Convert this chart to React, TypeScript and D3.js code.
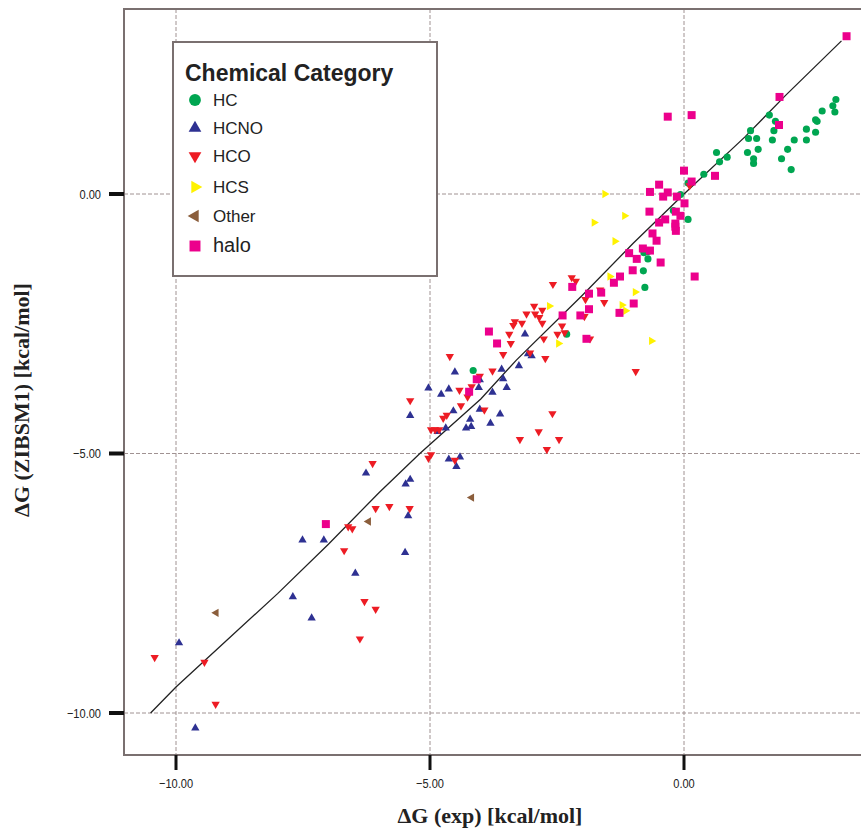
import React from 'react';
import * as d3 from 'd3';

const categories = ['HC', 'HCNO', 'HCO', 'HCS', 'Other', 'halo'];
const colors = ['#00a651', '#2e3192', '#ed1c24', '#fff200', '#8b5e3c', '#ec008c'];

const hc = [
  [2.99, 1.82], [2.93, 1.7], [2.97, 1.58], [2.72, 1.6], [2.59, 1.43], [2.62, 1.4], [2.41, 1.25],
  [2.59, 1.19], [2.41, 1.04], [2.17, 1.04], [2.04, 0.86], [1.92, 0.68], [2.11, 0.47], [1.68, 1.52],
  [1.8, 1.4], [1.77, 1.22], [1.74, 1.04], [1.31, 1.22], [1.27, 1.07], [1.43, 1.07], [1.46, 0.86],
  [1.25, 0.8], [1.37, 0.68], [1.37, 0.59], [0.64, 0.8], [0.7, 0.62], [0.85, 0.71], [0.39, 0.38],
  [0.08, 0.21], [-0.07, -0.01], [-0.21, -0.32], [0.08, -0.49], [-0.79, -1.13], [-0.71, -1.11],
  [-0.71, -1.25], [-0.8, -1.48], [-0.77, -1.8], [-2.31, -2.7], [-4.15, -3.4],
];

const hcno = [
  [-3.13, -2.7], [-3.07, -3.08], [-3.0, -3.12], [-3.25, -3.31], [-3.59, -3.38], [-3.56, -3.56],
  [-3.49, -3.73], [-3.77, -3.82], [-4.02, -3.58], [-4.04, -3.73], [-4.51, -3.43], [-4.63, -3.76],
  [-4.78, -3.86], [-5.03, -3.74], [-5.39, -4.27], [-4.54, -4.18], [-4.02, -4.15], [-3.62, -4.24],
  [-4.21, -4.34], [-3.81, -4.42], [-4.19, -4.48], [-4.29, -4.51], [-4.69, -4.51], [-4.85, -4.58],
  [-4.63, -5.11], [-4.41, -5.07], [-4.48, -5.25], [-6.26, -5.38], [-5.39, -5.5], [-5.48, -5.59],
  [-5.43, -6.2], [-5.49, -6.91], [-7.51, -6.67], [-7.09, -6.67], [-6.47, -7.31], [-7.7, -7.76],
  [-7.33, -8.17], [-9.94, -8.65], [-9.62, -10.29],
];

const hco = [
  [0.11, 0.16], [-2.21, -1.61], [-2.13, -1.68], [-2.58, -1.74], [-1.65, -1.85], [-1.94, -2.03],
  [-1.57, -2.09], [-2.95, -2.16], [-3.1, -2.31], [-2.93, -2.31], [-2.79, -2.24], [-2.85, -2.38],
  [-1.96, -2.36], [-3.33, -2.46], [-3.36, -2.53], [-3.19, -2.49], [-2.79, -2.49], [-2.4, -2.54],
  [-3.44, -2.7], [-2.49, -2.7], [-2.35, -2.67], [-2.76, -2.79], [-3.41, -2.88], [-1.85, -2.79],
  [-3.56, -3.09], [-3.03, -3.06], [-2.73, -3.17], [-4.61, -3.13], [-3.77, -3.41], [-4.02, -3.51],
  [-4.18, -3.71], [-4.42, -3.78], [-4.26, -3.91], [-4.39, -4.08], [-3.93, -4.16], [-5.39, -3.98],
  [-4.67, -4.26], [-4.74, -4.32], [-4.98, -4.54], [-4.9, -4.54], [-4.82, -4.54], [-2.59, -4.23],
  [-3.23, -4.73], [-2.86, -4.58], [-2.46, -4.73], [-2.7, -4.92], [-4.98, -5.02], [-5.03, -5.09],
  [-4.51, -5.13], [-6.13, -5.19], [-6.07, -6.06], [-5.8, -6.02], [-5.4, -6.06], [-6.61, -6.41],
  [-6.53, -6.45], [-6.69, -6.87], [-6.29, -7.85], [-6.07, -8.0], [-6.38, -8.57], [-10.42, -8.93],
  [-9.44, -9.02], [-9.22, -9.83], [-0.95, -3.42],
];

const hcs = [
  [-1.56, 0.0], [-1.17, -0.42], [-1.77, -0.55], [-1.36, -0.91], [-1.46, -1.59], [-0.96, -1.89],
  [-2.65, -2.16], [-1.22, -2.14], [-1.15, -2.25], [-2.47, -2.88], [-0.64, -2.83],
];

const other = [[-4.18, -5.85], [-6.21, -6.31], [-9.21, -8.07]];

const halo = [
  [3.2, 3.04], [1.88, 1.87], [1.87, 1.33], [-0.32, 1.49], [0.15, 1.52], [0.0, 0.45], [0.61, 0.35],
  [0.15, 0.24], [-0.49, 0.18], [-0.67, 0.04], [-0.32, 0.03], [-0.41, -0.05], [-0.14, -0.05],
  [0.01, -0.18], [-0.68, -0.34], [-0.07, -0.42], [-0.16, -0.34], [-0.37, -0.49], [-0.49, -0.55],
  [-0.17, -0.57], [-0.17, -0.63], [-0.16, -0.71], [-0.62, -0.76], [-0.54, -0.9], [-0.81, -1.05],
  [-0.67, -1.09], [-1.08, -1.14], [-0.93, -1.25], [-0.46, -1.32], [-1.01, -1.47], [0.21, -1.59],
  [-1.26, -1.59], [-1.38, -1.71], [-2.2, -1.79], [-1.87, -1.92], [-1.63, -1.9], [-0.99, -2.11],
  [-1.27, -2.29], [-1.87, -2.22], [-2.04, -2.34], [-2.39, -2.34], [-3.84, -2.65], [-3.68, -2.88],
  [-1.92, -2.79], [-4.08, -3.57], [-4.23, -3.81], [-7.05, -6.36],
];

const fitLine = [
  [-10.5, -10.0], [-10.0, -9.5], [-9.0, -8.6], [-8.0, -7.7], [-7.0, -6.75], [-6.0, -5.75],
  [-5.2, -5.0], [-4.0, -3.95], [-3.3, -3.2], [-2.0, -1.95], [-1.0, -0.95], [0.0, 0.0],
  [1.2, 1.1], [2.0, 1.9], [3.1, 2.95],
];

const ticks = [-10, -5, 0];
const seriesData = [hc, hcno, hco, hcs, other, halo];

const W = 861;
const H = 829;
const frame = { left: 124, top: 9, bottom: 755 };

const x = d3.scaleLinear().domain([-10, 0]).range([176, 684]);
const y = d3.scaleLinear().domain([-10, 0]).range([713, 194]);

// symbol shape + rotation per category
const shapes = [
  { type: d3.symbolCircle, rot: 0, size: 40 },
  { type: d3.symbolTriangle, rot: 0, size: 30 },
  { type: d3.symbolTriangle, rot: 180, size: 30 },
  { type: d3.symbolTriangle, rot: 90, size: 30 },
  { type: d3.symbolTriangle, rot: -90, size: 30 },
  { type: d3.symbolSquare, rot: 0, size: 64 },
];
const legendSizes = [110, 70, 70, 70, 70, 120];

const fmt = d3.format('.2f');
const gridColor = '#a09292';
const frameColor = '#7a7070';
const tickFont = "'Liberation Sans Narrow', 'Liberation Sans', Arial";

const App = () => {
  const line = d3
    .line()
    .x((d) => x(d[0]))
    .y((d) => y(d[1]));

  return (
    <svg
      width={W}
      height={H}
      style={{ position: 'absolute', left: 0, top: 0, background: '#fff' }}
    >
      {/* grid */}
      {ticks.map((t) => (
        <line key={'gx' + t} x1={x(t)} x2={x(t)} y1={frame.top} y2={frame.bottom}
          stroke={gridColor} strokeWidth={1} strokeDasharray="4,2" />
      ))}
      {ticks.map((t) => (
        <line key={'gy' + t} x1={frame.left} x2={W} y1={y(t)} y2={y(t)}
          stroke={gridColor} strokeWidth={1} strokeDasharray="4,2" />
      ))}

      {/* frame */}
      <path d={`M${W + 5},${frame.top}H${frame.left}V${frame.bottom}H${W + 5}`}
        fill="none" stroke={frameColor} strokeWidth={2} />

      {/* ticks */}
      {ticks.map((t) => (
        <g key={'tx' + t}>
          <line x1={x(t)} x2={x(t)} y1={frame.bottom} y2={frame.bottom + 15} stroke="#111" strokeWidth={3} />
          <text x={x(t)} y={788} textAnchor="middle" fontSize={13} fontFamily={tickFont} fill="#222"
            transform={`translate(${x(t)},0) scale(0.85,1) translate(${-x(t)},0)`}>{fmt(t)}</text>
        </g>
      ))}
      {ticks.map((t) => (
        <g key={'ty' + t}>
          <line x1={frame.left - 15} x2={frame.left} y1={y(t)} y2={y(t)} stroke="#111" strokeWidth={4} />
          <text x={101} y={y(t) + 5} textAnchor="end" fontSize={13} fontFamily={tickFont} fill="#222"
            transform="translate(101,0) scale(0.85,1) translate(-101,0)">{fmt(t)}</text>
        </g>
      ))}

      {/* axis titles */}
      <text x={490} y={823} textAnchor="middle" fontSize={22} fontWeight="bold"
        fontFamily="'Liberation Serif', 'Times New Roman', serif" fill="#222">ΔG (exp) [kcal/mol]</text>
      <text transform="translate(29,400) rotate(-90)" textAnchor="middle" fontSize={22} fontWeight="bold"
        fontFamily="'Liberation Serif', 'Times New Roman', serif" fill="#222">ΔG (ZIBSM1) [kcal/mol]</text>

      {/* fit line */}
      <path d={line(fitLine)} fill="none" stroke="#222" strokeWidth={1.3} />

      {/* points */}
      {seriesData.map((pts, i) => {
        const sym = d3.symbol().type(shapes[i].type).size(shapes[i].size)();
        return (
          <g key={categories[i]}>
            {pts.map((p, j) => (
              <path key={j} d={sym}
                transform={`translate(${x(p[0])},${y(p[1])}) rotate(${shapes[i].rot})`}
                fill={colors[i]} />
            ))}
          </g>
        );
      })}

      {/* legend */}
      <g>
        <rect x={173} y={42} width={264} height={234} fill="#fff" stroke={frameColor} strokeWidth={2} />
        <text x={185} y={81} fontSize={23} fontWeight="bold"
          fontFamily="'Liberation Sans', Arial, sans-serif" fill="#222">Chemical Category</text>
        {categories.map((c, i) => {
          const cy = [100, 128, 156, 187, 216, 246][i];
          const sym = d3.symbol().type(shapes[i].type).size(legendSizes[i])();
          return (
            <g key={'lg' + c}>
              <path d={sym} transform={`translate(195,${cy}) rotate(${shapes[i].rot})`} fill={colors[i]} />
              <text x={213} y={cy + 6} fontSize={i === 5 ? 20 : 17}
                fontFamily="'Liberation Sans', Arial, sans-serif" fill="#222">{c}</text>
            </g>
          );
        })}
      </g>
    </svg>
  );
};

export default App;
